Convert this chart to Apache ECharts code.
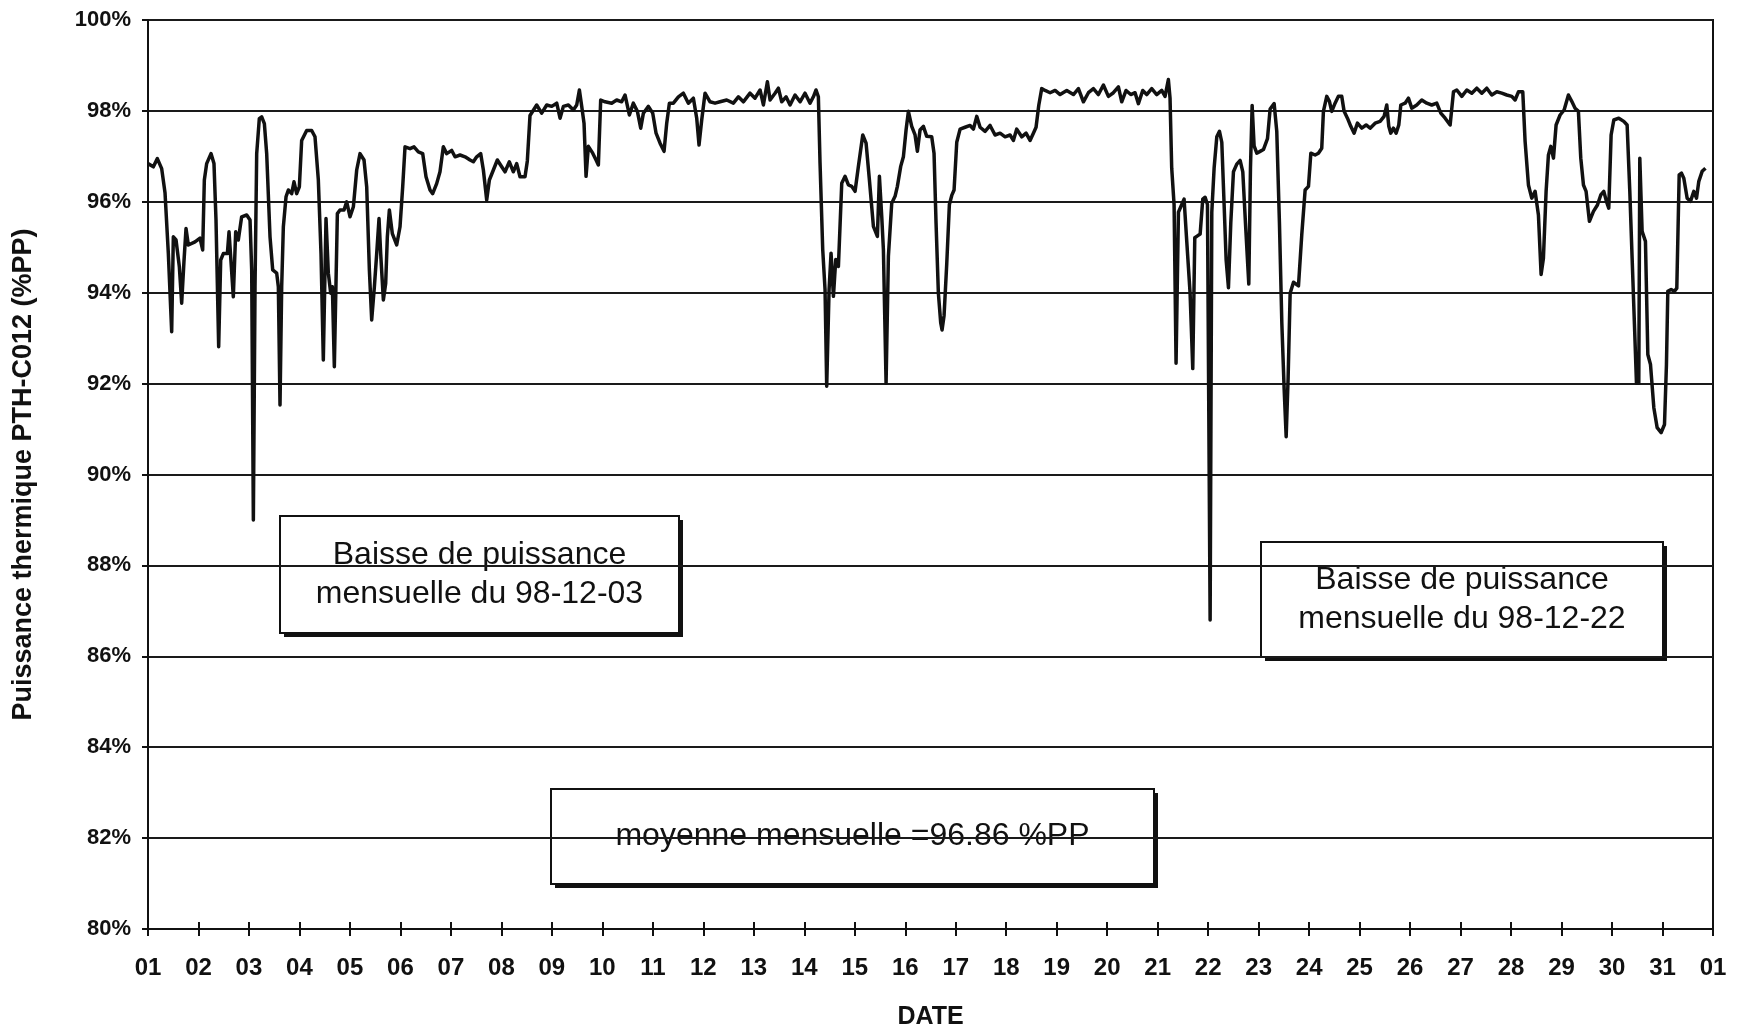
<!DOCTYPE html>
<html>
<head>
<meta charset="utf-8">
<script src="https://cdn.jsdelivr.net/npm/echarts@6/dist/echarts.min.js"></script>
<style>
  html, body { margin: 0; padding: 0; background: #fff; }
  #chart { width: 1748px; height: 1032px; }
</style>
</head>
<body>
<div id="chart"></div>
<script>
// temps en jours depuis le 1er decembre 00:00
var days = [
  0, 0.106, 0.185, 0.271, 0.337, 0.403, 0.469, 0.502, 0.555, 0.621, 0.667, 0.713, 0.753, 0.799, 0.931,
  1.030, 1.083, 1.116, 1.162, 1.248, 1.307, 1.347, 1.400, 1.440, 1.492, 1.572, 1.605, 1.638, 1.690, 1.737,
  1.789, 1.855, 1.955, 2.021, 2.054, 2.087, 2.120, 2.153, 2.205, 2.252, 2.305, 2.351, 2.417, 2.470, 2.549,
  2.582, 2.615, 2.648, 2.681, 2.734, 2.780, 2.846, 2.892, 2.945, 2.998, 3.044, 3.143, 3.242, 3.308, 3.374,
  3.427, 3.473, 3.526, 3.572, 3.619, 3.652, 3.691, 3.751, 3.803, 3.883, 3.936, 4.002, 4.068, 4.134, 4.200,
  4.279, 4.332, 4.385, 4.431, 4.484, 4.530, 4.576, 4.609, 4.662, 4.708, 4.741, 4.781, 4.840, 4.926, 4.992,
  5.045, 5.091, 5.190, 5.269, 5.355, 5.441, 5.507, 5.586, 5.639, 5.718, 5.784, 5.850, 5.916, 6.016, 6.082,
  6.181, 6.280, 6.379, 6.445, 6.511, 6.590, 6.643, 6.709, 6.762, 6.841, 6.920, 7.006, 7.072, 7.158, 7.237,
  7.303, 7.369, 7.468, 7.514, 7.567,
  7.699, 7.798, 7.898, 7.997, 8.096, 8.162, 8.228, 8.327, 8.426, 8.492, 8.545, 8.591, 8.637, 8.677, 8.723,
  8.809, 8.875, 8.921, 8.967, 9.053, 9.185, 9.284, 9.383, 9.449, 9.535, 9.614, 9.694, 9.760, 9.813, 9.912,
  9.998, 10.064, 10.143, 10.222, 10.275, 10.328, 10.407, 10.506, 10.605, 10.704, 10.803, 10.869, 10.915, 10.968, 11.034,
  11.133, 11.232, 11.331, 11.463, 11.595, 11.694, 11.793, 11.925, 12.024, 12.124, 12.190, 12.269, 12.322, 12.421, 12.487,
  12.553, 12.639, 12.718, 12.817, 12.916, 13.015, 13.114, 13.180, 13.233, 13.279, 13.312, 13.365, 13.411, 13.444, 13.491,
  13.530, 13.577, 13.623, 13.676, 13.742, 13.808, 13.874, 13.940, 14.006, 14.072, 14.158, 14.224, 14.290, 14.369, 14.448,
  14.488, 14.534, 14.567, 14.620, 14.666, 14.732, 14.798, 14.844, 14.910, 14.963, 15.016, 15.062, 15.128, 15.194, 15.240,
  15.293, 15.359, 15.425,
  15.524, 15.570, 15.610, 15.656, 15.702, 15.729, 15.769, 15.822, 15.874, 15.921, 15.967, 16.020, 16.086, 16.185, 16.284,
  16.350, 16.416, 16.482, 16.581, 16.680, 16.779, 16.878, 16.977, 17.076, 17.142, 17.208, 17.307, 17.393, 17.472, 17.538,
  17.591, 17.644, 17.703, 17.770, 17.869, 17.968, 18.067, 18.199, 18.331, 18.430, 18.529, 18.628, 18.727, 18.826, 18.925,
  19.024, 19.123, 19.222, 19.288, 19.374, 19.467, 19.552, 19.618, 19.704, 19.783, 19.882, 19.981, 20.080, 20.146, 20.212,
  20.245, 20.278, 20.325, 20.364, 20.411, 20.477, 20.523, 20.576, 20.642, 20.695, 20.735, 20.788, 20.841, 20.893, 20.940,
  20.986, 21.039, 21.072, 21.118, 21.171, 21.224, 21.270, 21.316, 21.356, 21.402, 21.448, 21.501, 21.567, 21.633, 21.686,
  21.739, 21.805, 21.838, 21.871, 21.910, 21.963, 22.029, 22.095, 22.175, 22.227, 22.307, 22.359, 22.412, 22.459, 22.505,
  22.545, 22.584, 22.624, 22.690, 22.789, 22.855, 22.921, 22.987, 23.034,
  23.118, 23.184, 23.250, 23.283, 23.349, 23.402, 23.448, 23.514, 23.580, 23.646, 23.693, 23.759, 23.825, 23.891, 23.957,
  24.043, 24.129, 24.208, 24.307, 24.406, 24.485, 24.538, 24.578, 24.617, 24.670, 24.723, 24.776, 24.816, 24.901, 24.967,
  25.033, 25.132, 25.231, 25.330, 25.429, 25.528, 25.608, 25.694, 25.793, 25.859, 25.925, 26.024, 26.123, 26.222, 26.321,
  26.420, 26.519, 26.618, 26.717, 26.816, 26.915, 27.014, 27.080, 27.146, 27.232, 27.278, 27.344, 27.410, 27.476, 27.542,
  27.595, 27.641, 27.694, 27.740, 27.787, 27.840, 27.892, 27.971, 28.051, 28.136, 28.202, 28.268, 28.334, 28.381, 28.434,
  28.486, 28.552, 28.632, 28.711, 28.777, 28.837, 28.889, 28.935, 28.982, 29.035, 29.134, 29.233, 29.299, 29.352, 29.398,
  29.444, 29.484, 29.530, 29.550, 29.596, 29.662, 29.709, 29.762, 29.828, 29.894, 29.973, 30.039, 30.078, 30.105, 30.171,
  30.237, 30.283, 30.330, 30.376, 30.422, 30.488, 30.554, 30.620, 30.673, 30.719, 30.785, 30.851
];

// puissance thermique PTH-C012 (%PP)
var puissance = [
  96.84, 96.77, 96.95, 96.73, 96.20, 94.86, 93.14, 95.23, 95.16, 94.57, 93.77, 94.70, 95.41, 95.05, 95.12,
  95.20, 94.94, 96.48, 96.84, 97.06, 96.84, 95.60, 92.81, 94.72, 94.86, 94.86, 95.34, 94.79, 93.91, 95.34,
  95.16, 95.67, 95.71, 95.60, 94.50, 89.00, 94.13, 97.06, 97.83, 97.87, 97.72, 97.06, 95.23, 94.50, 94.43,
  94.13, 91.53, 94.13, 95.45, 96.11, 96.26, 96.18, 96.44, 96.18, 96.33, 97.35, 97.57, 97.57, 97.43, 96.48,
  94.86, 92.52, 95.63, 94.43, 93.99, 94.13, 92.37, 95.74, 95.82, 95.82, 96.00, 95.67, 95.89, 96.70, 97.06,
  96.92, 96.33, 94.50, 93.40, 94.13, 94.86, 95.63, 94.86, 93.84, 94.20, 95.23, 95.82, 95.30, 95.05, 95.45,
  96.33, 97.21, 97.17, 97.21, 97.10, 97.06, 96.55, 96.26, 96.18, 96.40, 96.66, 97.21, 97.06, 97.13, 96.99,
  97.03, 96.99, 96.92, 96.88, 96.99, 97.06, 96.70, 96.04, 96.48, 96.70, 96.92, 96.77, 96.66, 96.88, 96.66,
  96.84, 96.55, 96.55, 96.90, 97.90,
  98.13, 97.95, 98.13, 98.10, 98.17, 97.84, 98.10, 98.13, 98.02, 98.13, 98.46, 98.10, 97.73, 96.56, 97.22,
  97.07, 96.92, 96.81, 98.24, 98.20, 98.17, 98.24, 98.20, 98.35, 97.91, 98.17, 97.99, 97.62, 97.95, 98.10,
  97.95, 97.51, 97.29, 97.11, 97.73, 98.17, 98.17, 98.31, 98.39, 98.17, 98.28, 97.84, 97.25, 97.80, 98.39,
  98.20, 98.17, 98.20, 98.24, 98.17, 98.31, 98.20, 98.39, 98.28, 98.46, 98.13, 98.64, 98.24, 98.39, 98.50,
  98.20, 98.31, 98.13, 98.35, 98.20, 98.39, 98.17, 98.31, 98.46, 98.31, 96.85, 94.95, 94.07, 91.94, 94.07,
  94.87, 93.92, 94.73, 94.58, 96.41, 96.56, 96.37, 96.34, 96.23, 96.78, 97.47, 97.29, 96.48, 95.46, 95.24,
  96.56, 95.68, 94.95, 92.01, 94.80, 95.97, 96.12, 96.34, 96.78, 96.99, 97.58, 97.99, 97.66, 97.47, 97.11,
  97.58, 97.66, 97.44,
  97.43, 97.07, 95.53, 93.99, 93.34, 93.18, 93.50, 94.64, 95.94, 96.14, 96.26, 97.31, 97.60, 97.64, 97.68,
  97.60, 97.88, 97.64, 97.55, 97.68, 97.47, 97.51, 97.43, 97.47, 97.35, 97.60, 97.43, 97.51, 97.35, 97.51,
  97.64, 98.12, 98.49, 98.45, 98.40, 98.45, 98.36, 98.45, 98.36, 98.49, 98.20, 98.40, 98.49, 98.36, 98.57,
  98.32, 98.40, 98.53, 98.20, 98.45, 98.36, 98.40, 98.16, 98.45, 98.36, 98.49, 98.36, 98.45, 98.32, 98.69,
  98.28, 96.74, 95.94, 92.45, 95.77, 95.94, 96.06, 95.13, 93.99, 92.33, 95.21, 95.25, 95.29, 96.06, 96.10,
  95.94, 86.80, 95.77, 96.74, 97.43, 97.55, 97.31, 95.94, 94.72, 94.11, 95.53, 96.66, 96.83, 96.91, 96.66,
  95.53, 94.19, 96.74, 98.12, 97.23, 97.07, 97.11, 97.15, 97.39, 98.04, 98.16, 97.55, 95.53, 93.34, 91.89,
  90.83, 92.13, 93.99, 94.23, 94.15, 95.29, 96.26, 96.34, 97.07,
  97.03, 97.07, 97.18, 97.99, 98.32, 98.21, 97.99, 98.17, 98.32, 98.32, 97.99, 97.84, 97.66, 97.51, 97.73,
  97.62, 97.69, 97.62, 97.73, 97.77, 97.88, 98.13, 97.66, 97.51, 97.62, 97.51, 97.69, 98.13, 98.17, 98.28,
  98.06, 98.13, 98.24, 98.17, 98.13, 98.17, 97.95, 97.84, 97.69, 98.42, 98.46, 98.32, 98.46, 98.39, 98.50,
  98.39, 98.50, 98.35, 98.42, 98.39, 98.35, 98.32, 98.24, 98.42, 98.42, 97.33, 96.37, 96.08, 96.23, 95.71,
  94.40, 94.76, 96.23, 97.03, 97.22, 96.96, 97.69, 97.91, 98.02, 98.35, 98.21, 98.06, 97.99, 96.96, 96.37,
  96.23, 95.57, 95.79, 95.93, 96.15, 96.23, 96.01, 95.86, 97.47, 97.80, 97.84, 97.77, 97.69, 96.23, 94.76,
  93.30, 92.01, 92.01, 96.96, 95.35, 95.13, 92.64, 92.42, 91.47, 91.03, 90.92, 91.10, 92.42, 94.03, 94.07,
  94.03, 94.10, 96.59, 96.63, 96.52, 96.08, 96.01, 96.23, 96.08, 96.45, 96.67, 96.74
];

var yTicks = [80, 100, 2];   // min, max, pas
var nbJours = 31;

var notes = [
  { text: 'Baisse de puissance\nmensuelle du 98-12-03', x: 280, y: 516, w: 399, h: 117 },
  { text: 'Baisse de puissance\nmensuelle du 98-12-22', x: 1261, y: 542, w: 402, h: 115 },
  { text: 'moyenne mensuelle =96.86 %PP', x: 551, y: 789, w: 603, h: 95 }
];

var police = "'Liberation Sans', Arial, Helvetica, sans-serif";

var points = days.map(function (d, i) { return [d, puissance[i]]; });

function etiquette(n) {
  var j = (Math.round(n) % nbJours) + 1;
  return (j < 10 ? '0' : '') + j;
}

function boite(n) {
  return {
    type: 'group',
    x: n.x,
    y: n.y,
    z: 100,
    children: [
      { type: 'rect', shape: { x: 4, y: 4, width: n.w, height: n.h }, style: { fill: '#111' } },
      { type: 'rect', shape: { x: 0, y: 0, width: n.w, height: n.h },
        style: { fill: '#fff', stroke: '#111', lineWidth: 2 } },
      { type: 'text', x: n.w / 2, y: n.h / 2,
        style: { text: n.text, fontFamily: police, fontSize: 32, fill: '#111', lineHeight: 39,
                 align: 'center', verticalAlign: 'middle', textAlign: 'center', textVerticalAlign: 'middle' } }
    ]
  };
}

var chart = echarts.init(document.getElementById('chart'));
var option = {
  animation: false,
  backgroundColor: '#fff',
  grid: {
    left: 148, right: 35, top: 20, bottom: 103,
    outerBoundsMode: 'none',
    containLabel: false,
    show: true, borderColor: '#111', borderWidth: 2, backgroundColor: 'transparent'
  },
  xAxis: [{
    type: 'value',
    min: 0,
    max: nbJours,
    interval: 1,
    name: 'DATE',
    nameLocation: 'middle',
    nameGap: 76,
    nameTextStyle: { fontFamily: police, fontSize: 25, fontWeight: 'bold', color: '#111' },
    axisLine: { lineStyle: { color: '#111', width: 2 } },
    axisTick: { show: false },
    axisLabel: { margin: 27, fontFamily: police, fontSize: 24, fontWeight: 'bold', color: '#111', formatter: etiquette },
    splitLine: { show: false }
  }, {
    // graduations qui traversent l'axe
    type: 'value',
    min: 0,
    max: nbJours,
    interval: 1,
    position: 'bottom',
    offset: -7,
    axisLine: { show: false },
    axisTick: { show: true, length: 14, lineStyle: { color: '#111', width: 2 } },
    axisLabel: { show: false },
    splitLine: { show: false }
  }],
  yAxis: {
    type: 'value',
    min: yTicks[0],
    max: yTicks[1],
    interval: yTicks[2],
    name: 'Puissance thermique PTH-C012 (%PP)',
    nameLocation: 'middle',
    nameGap: 111,
    nameTextStyle: { fontFamily: police, fontSize: 27, fontWeight: 'bold', color: '#111' },
    axisLine: { show: true, lineStyle: { color: '#111', width: 2 } },
    axisTick: { show: true, length: 6, lineStyle: { color: '#111', width: 2 } },
    axisLabel: { margin: 17, fontFamily: police, fontSize: 22, fontWeight: 'bold', color: '#111',
                 formatter: function (v) { return v + '%'; } },
    splitLine: { show: true, lineStyle: { color: '#1a1a1a', width: 2 } }
  },
  series: [{
    type: 'line',
    data: points,
    showSymbol: false,
    symbol: 'none',
    sampling: null,
    lineStyle: { color: '#111', width: 3.5, join: 'round' },
    z: 5
  }],
  graphic: notes.map(boite)
};
chart.setOption(option);
</script>
</body>
</html>
